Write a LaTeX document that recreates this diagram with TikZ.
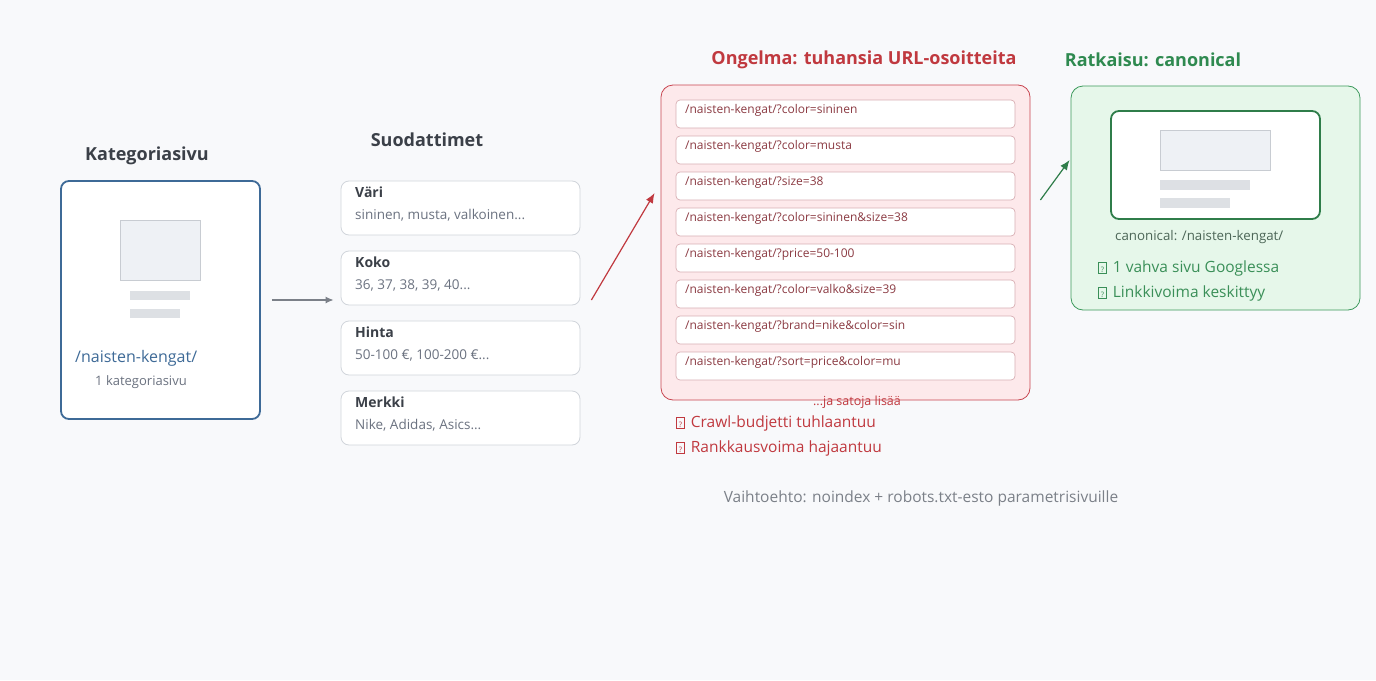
\documentclass[tikz,border=0pt]{standalone}
\usepackage{fontspec}
\setmainfont{Open Sans}
\usepackage{tikz}
\usetikzlibrary{arrows.meta}

\definecolor{bgcol}{HTML}{F8F9FB}
\definecolor{darktext}{HTML}{3B4048}
\definecolor{graytext}{HTML}{6B7280}
\definecolor{catblue}{HTML}{3E6A97}
\definecolor{boxline}{HTML}{D1D5DB}
\definecolor{phfill}{HTML}{EEF1F5}
\definecolor{phline}{HTML}{C8CCD2}
\definecolor{barcol}{HTML}{DDE0E4}
\definecolor{probred}{HTML}{C0393F}
\definecolor{probfill}{HTML}{FDE9EB}
\definecolor{probline}{HTML}{C84550}
\definecolor{urlline}{HTML}{D8AEB3}
\definecolor{urltext}{HTML}{8B3A42}
\definecolor{solgreen}{HTML}{2F8A50}
\definecolor{solfill}{HTML}{E6F7EA}
\definecolor{solline}{HTML}{3C9A5C}
\definecolor{innergreen}{HTML}{2F7D4A}
\definecolor{soltext}{HTML}{3A8F58}
\definecolor{canontext}{HTML}{4C6657}
\definecolor{arrowgray}{HTML}{7B8088}

\newcommand{\fs}[1]{\fontsize{#1}{#1}\selectfont}
\newcommand{\tofu}{{\setlength\fboxsep{0pt}\setlength\fboxrule{0.6pt}%
    \raisebox{-0.5pt}{\fbox{\rule{0pt}{10pt}\makebox[7.5pt]{\fs{7.5}?}}}}}

\tikzset{
    title/.style={font=\fs{18}\bfseries, text=darktext},
    catbox/.style={draw=catblue, line width=1.8pt, fill=white, rounded corners=8pt,
        minimum width=199pt, minimum height=238pt},
    filterbox/.style={draw=boxline, line width=0.8pt, fill=white, rounded corners=8pt,
        minimum width=239pt, minimum height=54pt},
    urlbox/.style={draw=urlline, line width=0.7pt, fill=white, rounded corners=4pt,
        minimum width=339pt, minimum height=28pt},
    placeholder/.style={draw=phline, line width=0.7pt, fill=phfill},
    bar/.style={fill=barcol},
    listtext/.style={font=\fs{15.5}, anchor=west, inner sep=0pt},
    grayarrow/.style={draw=arrowgray, line width=1.3pt, -{Latex[length=8pt,width=7pt]}},
    redarrow/.style={draw=probred, line width=1.2pt, -{Latex[length=10pt,width=8pt]}},
    greenarrow/.style={draw=innergreen, line width=1.2pt, -{Latex[length=10pt,width=8pt]}}
}

\begin{document}
\begin{tikzpicture}[x=1pt,y=-1pt]
    % background
    \fill[bgcol] (0,0) rectangle (1376,680);
    \useasboundingbox (0,0) rectangle (1376,680);

    % category page
    \node[title] (cattitle) at (147,156) {Kategoriasivu};
    \node[catbox] (cat) at (160.5,300) {};
    \node[placeholder, minimum width=80pt, minimum height=60pt, inner sep=0pt] (catimg) at (160,250) {};
    \fill[bar] (130,291) rectangle (190,300);
    \fill[bar] (130,309) rectangle (180,318);
    \node[font=\fs{16}, text=catblue, anchor=west, inner sep=0pt] (caturl) at (75,358) {/naisten-kengat/};
    \node[font=\fs{13}, text=graytext, inner sep=0pt] (catnote) at (141,382) {1 kategoriasivu};

    % filters
    \node[title] (filtitle) at (427,140) {Suodattimet};
    \foreach \ttl/\sub [count=\i] in {V\"ari/{sininen, musta, valkoinen...},
                                      Koko/{36, 37, 38, 39, 40...},
                                      Hinta/{50-100 €, 100-200 €...},
                                      Merkki/{Nike, Adidas, Asics...}}
    {
        \node[filterbox] (f\i) at (460.5,{208+70*(\i-1)}) {};
        \node[font=\fs{14}\bfseries, text=darktext, anchor=west, inner sep=0pt] (f\i t) at (355,{192+70*(\i-1)}) {\ttl};
        \node[font=\fs{13.5}, text=graytext, anchor=west, inner sep=0pt] (f\i s) at (355,{215+70*(\i-1)}) {\sub};
    }

    % problem
    \node[title, text=probred] (probtitle) at (864,60) {Ongelma: tuhansia URL-osoitteita};
    \node[draw=probline, line width=0.8pt, fill=probfill, rounded corners=12pt,
        minimum width=369pt, minimum height=315pt] (prob) at (845.5,242.5) {};
    \foreach \url [count=\i] in {color=sininen, color=musta, size=38, color=sininen\&size=38,
                                 price=50-100, color=valko\&size=39, brand=nike\&color=sin,
                                 sort=price\&color=mu}
    {
        \node[urlbox] (u\i) at (845.5,{114+36*(\i-1)}) {};
        \node[font=\fs{12}, text=urltext, anchor=west, inner sep=0pt] (u\i t) at (685,{110+36*(\i-1)}) {/naisten-kengat/?\url};
    }
    \node[font=\fs{12.5}, text=probred, inner sep=0pt] (more) at (857,402) {...ja satoja lis\"a\"a};
    \node[listtext, text=probred] (cons1) at (676,423) {\tofu\hspace{6pt}Crawl-budjetti tuhlaantuu};
    \node[listtext, text=probred] (cons2) at (676,448) {\tofu\hspace{6pt}Rankkausvoima hajaantuu};
    \node[font=\fs{15.5}, text=arrowgray, inner sep=0pt] (alt) at (921,498) {Vaihtoehto: noindex + robots.txt-esto parametrisivuille};

    % solution
    \node[title, text=solgreen] (soltitle) at (1153,60) {Ratkaisu: canonical};
    \node[draw=solline, line width=0.8pt, fill=solfill, rounded corners=12pt,
        minimum width=289pt, minimum height=224pt] (sol) at (1215.5,198) {};
    \node[draw=innergreen, line width=1.8pt, fill=white, rounded corners=8pt,
        minimum width=209pt, minimum height=108pt] (canon) at (1215.5,165) {};
    \node[placeholder, minimum width=110pt, minimum height=40pt, inner sep=0pt] (canonimg) at (1215,150) {};
    \fill[bar] (1160,180) rectangle (1250,190);
    \fill[bar] (1160,198) rectangle (1230,208);
    \node[font=\fs{13.3}, text=canontext, anchor=west, inner sep=0pt] (canonurl) at (1115,237) {canonical: /naisten-kengat/};
    \node[listtext, text=soltext] (gain1) at (1098,268) {\tofu\hspace{6pt}1 vahva sivu Googlessa};
    \node[listtext, text=soltext] (gain2) at (1098,293) {\tofu\hspace{6pt}Linkkivoima keskittyy};

    % arrows
    \draw[grayarrow, shorten <=11pt, shorten >=7pt] (cat.east) -- (cat.east -| f2.west);
    \draw[redarrow] ([shift={(11,22)}]f2.east) -- ([shift={(-6,-49.5)}]prob.west);
    \draw[greenarrow] ([shift={(10,-42.5)}]prob.east) -- ([shift={(-1,-38)}]sol.west);
\end{tikzpicture}
\end{document}
